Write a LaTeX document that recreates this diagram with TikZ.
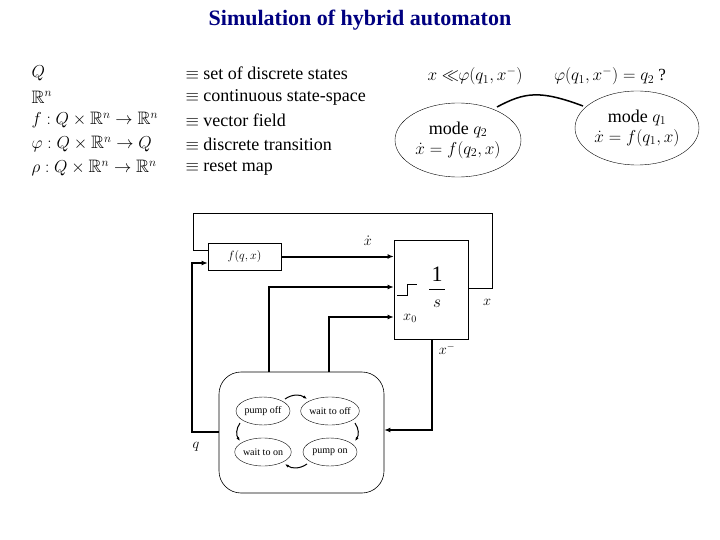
\documentclass[tikz,border=0pt]{standalone}
\usepackage{amssymb}
\usepackage{fontspec}
\setmainfont{Liberation Serif}
\usetikzlibrary{arrows.meta,shapes.geometric}
\begin{document}
\begin{tikzpicture}[x=1pt,y=-1pt,
  blk/.style={draw,line width=0.6pt},
  sig/.style={line width=2pt,-{Latex[length=6pt,width=5pt]}},
  st/.style={draw,ellipse,minimum width=54pt,minimum height=28pt,inner sep=0pt,font=\fontsize{10}{11}\selectfont},
  sm/.style={line width=1pt,-{Latex[length=4pt,width=3pt]}},
  lab/.style={font=\fontsize{14}{16}\selectfont},
  df/.style={anchor=west,font=\fontsize{18}{20}\selectfont}]
\useasboundingbox (0,0) rectangle (720,540);
\node[font=\bfseries\fontsize{22}{24}\selectfont,text=blue!50!black] (title) at (360,20) {Simulation of hybrid automaton};
% definitions
\foreach \y/\a/\b [count=\i] in {73/{$Q$}/{set of discrete states},97/{$\mathbb{R}^n$}/{continuous state-space},120/{$f: Q\times\mathbb{R}^n\rightarrow\mathbb{R}^n$}/{vector field},144/{$\varphi: Q\times\mathbb{R}^n\rightarrow Q$}/{discrete transition},168/{$\rho: Q\times\mathbb{R}^n\rightarrow\mathbb{R}^n$}/{reset map}}{
  \node[df] (d\i) at (28,\y) {\a};
  \node[df] (e\i) at (182,\y) {$\equiv$ \b};
}
% modes
\node[draw,ellipse,minimum width=126pt,minimum height=74pt,inner sep=1pt,align=center,font=\fontsize{18}{22}\selectfont] (m2) at (458,140) {mode $q_2$\\[-2pt]$\dot x = f(q_2,x)$};
\node[draw,ellipse,minimum width=124pt,minimum height=74pt,inner sep=1pt,align=center,font=\fontsize{18}{22}\selectfont] (m1) at (637,128) {mode $q_1$\\[-2pt]$\dot x = f(q_1,x)$};
\coordinate (c1) at (497,107); \coordinate (c2) at (583,106);
\draw[line width=1.5pt] (c1) .. controls (525,92) and (540,90) .. (c2);
\node[font=\fontsize{17}{19}\selectfont] (t1) at (475,76) {$x \ll\!\!\varphi(q_1,x^{-})$};
\node[font=\fontsize{17}{19}\selectfont] (t2) at (610,76) {$\varphi(q_1,x^{-}) = q_2$ ?};
% blocks
\node[blk,minimum width=73pt,minimum height=27pt,inner sep=0pt,font=\fontsize{13}{15}\selectfont] (f) at (244.5,256.5) {$f(q,x)$};
\node[blk,minimum width=74pt,minimum height=99pt,inner sep=0pt] (int) at (431,289.5) {};
\node[font=\fontsize{22}{24}\selectfont] (one) at (437,274) {1};
\draw[line width=0.4pt] (429,289) -- (445,289);
\node[font=\fontsize{18}{20}\selectfont] (s) at (437,304) {$s$};
\draw[line width=0.8pt] (397,295) -- (407,295) -- (407,284) -- (417,284);
\node[draw,rounded corners=22pt,minimum width=165pt,minimum height=121pt,line width=0.6pt] (ha) at (301.5,432.5) {};
\node[st] (p1) at (263,411) {pump off};
\node[st] (p2) at (330,411) {wait to off};
\node[st] (p3) at (263,452) {wait to on};
\node[st] (p4) at (330,452) {pump on};
\draw[sm] (285,399) to[bend left=35] (307,399);
\draw[sm] (355,423) to[bend left=35] (355,441);
\draw[sm] (307,464) to[bend left=35] (285,464);
\draw[sm] (240,423) to[bend right=35] (240,441);
% signals
\draw[sig] (f.east) -- (int.west |- f.east);
\coordinate (a2) at (269,372); \coordinate (a3) at (329,372);
\draw[sig] (a2) -- (269,287) -- (int.west |- 0,287);
\draw[sig] (a3) -- (329,317) -- (int.west |- 0,317);
\draw[sig] (432,339) -- (432,430) -- (ha.east |- 0,430);
\draw[sig] (ha.west |- 0,432) -- (192,432) -- (192,263) -- (f.west |- 0,263);
\draw[line width=0.6pt] (int.east |- 0,288) -- (492,288) -- (492,213) -- (193,213) -- (193,250) -- (f.west |- 0,250);
% labels
\node[lab] (lxd) at (368,241) {$\dot x$};
\node[lab] (lx0) at (410,318) {$x_0$};
\node[lab] (lx) at (487,302) {$x$};
\node[lab] (lxm) at (447,349) {$x^{-}$};
\node[lab] (lq) at (196,447) {$q$};
\end{tikzpicture}
\end{document}
